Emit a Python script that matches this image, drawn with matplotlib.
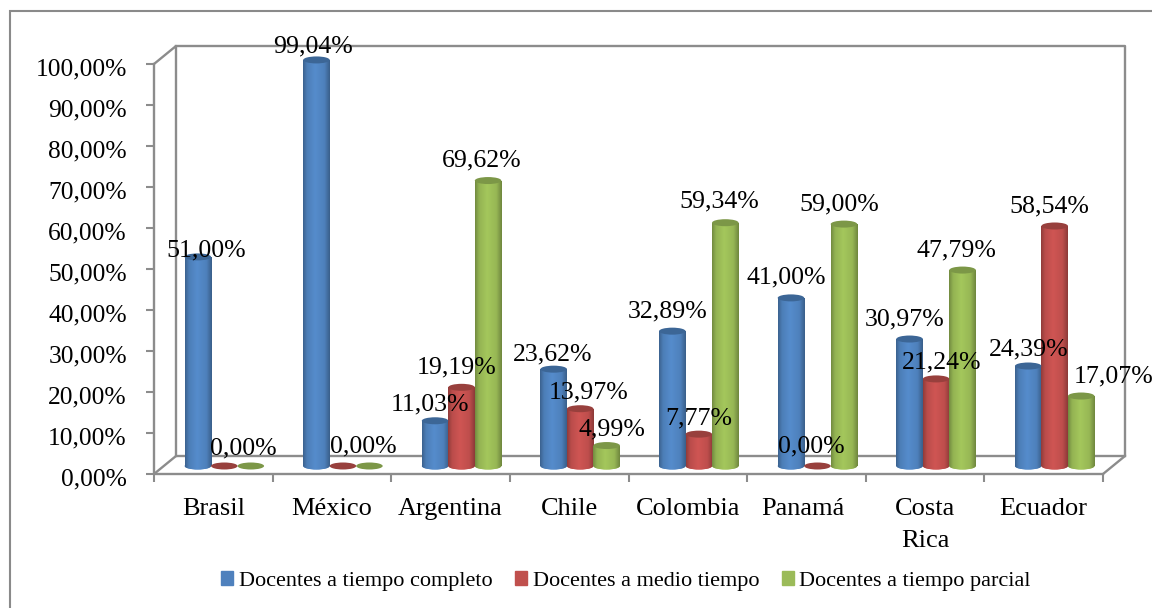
import numpy as np
import matplotlib
matplotlib.use("Agg")
import matplotlib.pyplot as plt
from matplotlib.patches import Ellipse, Patch, Rectangle
from matplotlib.transforms import ScaledTranslation

categories = ["Brasil", "México", "Argentina", "Chile", "Colombia", "Panamá", "Costa\nRica", "Ecuador"]
completo = [51.00, 99.04, 11.03, 23.62, 32.89, 41.00, 30.97, 24.39]
medio = [0.00, 0.00, 19.19, 13.97, 7.77, 0.00, 21.24, 58.54]
parcial = [0.00, 0.00, 69.62, 4.99, 59.34, 59.00, 47.79, 17.07]
series_names = ["Docentes a tiempo completo", "Docentes a medio tiempo", "Docentes a tiempo parcial"]
y_ticks = [0, 10, 20, 30, 40, 50, 60, 70, 80, 90, 100]

# label offsets in pixels from the top of each cylinder, None = no label
offs_completo = [(8, 6), (-3, 13), (-5, 16), (-1, 15), (-5, 20), (-5, 20), (-5, 20), (0, 17)]
offs_medio = [(19, 18), (20, 20), (-5, 20), (8, 16), (0, 16), (-6, 20), (6, 16), (-5, 20)]
offs_parcial = [None, None, (-6, 20), (5, 16), (-6, 21), (-5, 20), (-6, 20), (32, 20)]

plt.rcParams["font.family"] = ["Liberation Serif", "DejaVu Serif"]
W, H = 1152, 608
fig = plt.figure(figsize=(W / 100, H / 100), dpi=100)
# front edge of the chart floor: 154..1103 px, 0% at y=474, 100% at y=64
# y axis runs on to 110 so the México cylinder is not cut by the axes box
ax = fig.add_axes([154 / W, 1 - 474 / H, (1103 - 154) / W, (474 - 23) / H])
ax.set_xlim(0, 8)
ax.set_ylim(0, 110)
ax.patch.set_visible(False)
for s in ax.spines.values():
    s.set_visible(False)

px_x = 8 / (1103 - 154)
px_y = 100 / (474 - 64)
depth_x = 22 * px_x
depth_y = 18 * px_y
wall = "#8c8c8c"
lw = 1.7

# outer frame of the picture, only left and top are inside the image
fig.add_artist(Rectangle((10 / W, -0.05), 1.1, 1.05 - 11 / H, transform=fig.transFigure,
                         fill=False, ec="#8a8a8a", lw=1.5))

# walls
ax.plot([depth_x, 8 + depth_x, 8 + depth_x, 8], [100 + depth_y, 100 + depth_y, depth_y, 0], color=wall, lw=lw, clip_on=False)
ax.plot([0, depth_x, depth_x], [100, 100 + depth_y, depth_y], color=wall, lw=lw, clip_on=False)
ax.plot([0, depth_x, 8 + depth_x], [0, depth_y, depth_y], color=wall, lw=lw, clip_on=False)
ax.plot([0, 0, 8], [100, 0, 0], color=wall, lw=lw, clip_on=False)

ax.set_yticks(y_ticks)
ax.set_yticklabels([f"{v:.2f}%".replace(".", ",") for v in y_ticks], fontsize=18.4)
ax.set_xticks(np.arange(9))
ax.set_xticklabels([])
ax.set_xticks(np.arange(8) + 0.5, minor=True)
ax.set_xticklabels(categories, minor=True, fontsize=19, linespacing=1.6, va="top")
ax.tick_params(axis="y", length=6, width=1.5, color=wall, pad=13.5)
ax.tick_params(axis="x", which="major", length=5.5, width=1.5, color=wall)
ax.tick_params(axis="x", which="minor", length=0, pad=17)

# tick_params resets label transforms, so these shifts come after it
shift = ScaledTranslation(0, -3 / 100, fig.dpi_scale_trans)
for t in ax.get_yticklabels():
    t.set_transform(t.get_transform() + shift)
panama = ax.get_xticklabels(minor=True)[5]
panama.set_transform(panama.get_transform() + ScaledTranslation(-4 / 100, 0, fig.dpi_scale_trans))

base = 8 * px_y
bar_w = 26.5 * px_x
ell_h = 7 * px_y
cmap_pts = [0.0, 0.15, 0.45, 0.8, 1.0]


def shade(color):
    c = np.array(matplotlib.colors.to_rgb(color))
    levels = [0.7, 0.9, 1.0, 0.92, 0.68]
    x = np.linspace(0, 1, 64)
    r = np.stack([np.interp(x, cmap_pts, [l * ch for l in levels]) for ch in c], axis=1)
    return r[np.newaxis, :, :]


def cylinder(x, v, color, top_color):
    y0 = base
    y1 = base + v
    if v > 0:
        body = ax.bar(x, v, width=bar_w, bottom=y0, color=color, lw=0, zorder=3)[0]
        foot = Ellipse((x, y0), bar_w, ell_h, fc=color, ec="none", zorder=3)
        ax.add_patch(foot)
        for clip in (body, foot):
            im = ax.imshow(shade(color), extent=(x - bar_w / 2, x + bar_w / 2, y0 - ell_h, y1),
                           aspect="auto", zorder=3.1, interpolation="bilinear")
            im.set_clip_path(clip)
        ax.set_xlim(0, 8)
        ax.set_ylim(0, 110)
    ax.add_patch(Ellipse((x, y1), bar_w, ell_h, fc=top_color, ec="none", zorder=3.2))


series = [
    (completo, "#558ccc", "#3c6696", offs_completo),
    (medio, "#cf5553", "#98403d", offs_medio),
    (parcial, "#a4c75c", "#7c9747", offs_parcial),
]
for j, (vals, col, top, offs) in enumerate(series):
    for i, v in enumerate(vals):
        x = i + 0.5 + 11 * px_x + (j - 1) * bar_w
        cylinder(x, v, col, top)
        if offs[i] is None:
            continue
        ax.annotate(f"{v:.2f}%".replace(".", ","), (x, base + v), xytext=offs[i], textcoords="offset pixels",
                    ha="center", va="center", fontsize=18.6, zorder=5, annotation_clip=False)

handles = [Patch(color=c) for c in ["#4f81bd", "#c0504d", "#9bbb59"]]
fig.legend(handles, series_names, loc="center", bbox_to_anchor=(626 / W, 1 - 581 / H), ncol=3, frameon=False,
           fontsize=16.05, handlelength=0.55, handleheight=0.55, handletextpad=0.25, columnspacing=1.0)

fig.savefig("out.png", dpi=100)
